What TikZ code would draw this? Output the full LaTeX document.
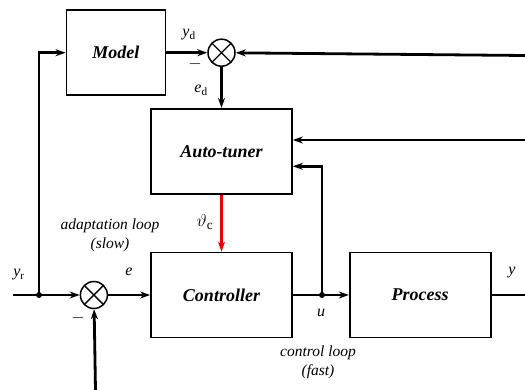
\documentclass[tikz,border=0pt]{standalone}
\usepackage{fontspec}
\setmainfont{Liberation Serif}
\usetikzlibrary{arrows.meta,positioning}
\definecolor{tunered}{RGB}{235,0,0}
\newcommand{\sig}[2]{\textit{#1}\textsubscript{\upshape #2}}

\begin{document}
\begin{tikzpicture}[
    x=1pt,y=-1pt,
    node distance=41pt,
    block/.style={rectangle,draw,line width=1.7pt,minimum width=141pt,minimum height=85pt,font=\fontsize{18}{20}\selectfont\bfseries\itshape},
    sum/.style={circle,draw,line width=1.5pt,minimum size=27pt,inner sep=0pt,
        path picture={\draw[line width=1.3pt] (path picture bounding box.north west) -- (path picture bounding box.south east)
        (path picture bounding box.north east) -- (path picture bounding box.south west);}},
    arrow/.style={-{Stealth[length=10pt,width=7pt]},line width=2.8pt},
    line/.style={line width=2.8pt},
    lbl/.style={font=\fontsize{16}{18}\selectfont},
    note/.style={font=\fontsize{15.5}{19}\selectfont\itshape,align=center}
]
\useasboundingbox (0,0) rectangle (525,390);

\node[block] (ctrl) at (221.5,295) {Controller};
\node[block,right=56pt of ctrl] (proc) {Process};
\node[block,above=57pt of ctrl] (tuner) {Auto-tuner};
\node[sum,above=41pt of tuner] (sumd) {};
\node[block,minimum width=99pt,left=41pt of sumd] (model) {Model};
\node[sum,left=42pt of ctrl] (sume) {};

\coordinate (yin) at (13,295);
\coordinate (ybr) at (39,295);
\coordinate (ubr) at (322,295);
\coordinate (yout) at (525,295);
\coordinate (ymeas) at (525,55.5);
\coordinate (yext) at (525,140);
\coordinate (yfb) at (95.5,390);

\draw[line] (yin) -- (ybr);
\draw[arrow] (ybr) -- (sume);
\draw[arrow] (sume) -- (ctrl);
\draw[line] (ctrl) -- (ubr);
\draw[arrow] (ubr) -- (proc);
\draw[line] (proc) -- (yout);
\draw[arrow] (ybr) |- (model);
\draw[arrow] (model) -- (sumd);
\draw[arrow] (ymeas) -- (sumd);
\draw[arrow] (sumd) -- (tuner);
\draw[arrow] (yext) -- (tuner.east |- yext);
\draw[arrow] (ubr) |- ([yshift=-15pt]tuner.east);
\draw[arrow,tunered] (tuner) -- (ctrl);
\draw[arrow] (yfb) -- (sume);
\fill (ybr) circle (3pt);
\fill (ubr) circle (3pt);

\node[lbl] (lyd) at (189,35) {\sig{y}{d}};
\node[lbl] (lmd) at (195,64) {$-$};
\node[lbl] (led) at (201,90) {\sig{e}{d}};
\node[lbl] (lth) at (205,222) {\fontsize{19}{20}\selectfont$\vartheta$\textsubscript{c}};
\node[note] (nadapt) at (110,235) {adaptation loop\\(slow)};
\node[lbl] (lyr) at (19,275) {\sig{y}{r}};
\node[lbl] (le) at (129,272) {\textit{e}};
\node[lbl] (lme) at (78,318) {$-$};
\node[lbl] (lu) at (321,313) {\textit{u}};
\node[note] (nctrl) at (318,362) {control loop\\(fast)};
\node[lbl] (ly) at (512,273) {\textit{y}};
\end{tikzpicture}
\end{document}
